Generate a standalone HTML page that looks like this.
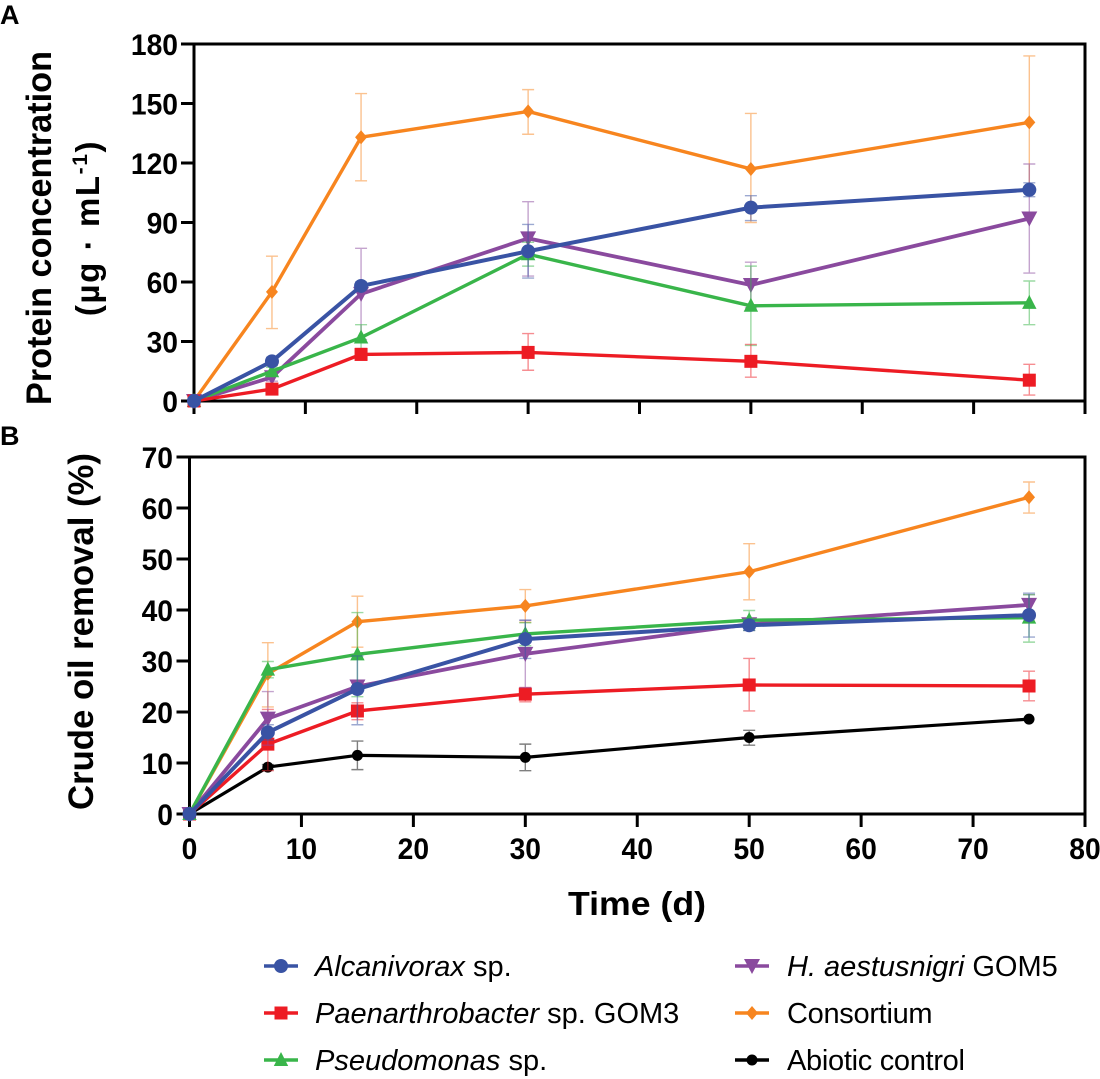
<!DOCTYPE html>
<html lang="en">
<head>
<meta charset="utf-8">
<title>Protein concentration and crude oil removal</title>
<style>
html,body{margin:0;padding:0;background:#fff;}
svg{display:block;}
text{font-family:"Liberation Sans",sans-serif;fill:#000;}
.tick{font-weight:bold;font-size:30px;}
.title{font-weight:bold;font-size:35px;}
.panel{font-weight:bold;font-size:27px;}
.leg{font-size:29px;}
</style>
</head>
<body>
<svg id="fig" xmlns="http://www.w3.org/2000/svg" width="1100" height="1079" viewBox="0 0 1100 1079">
<text class="panel" x="0" y="24">A</text>
<text class="panel" x="0" y="445">B</text>
<text class="title" transform="translate(51 405) rotate(-90)" textLength="354" lengthAdjust="spacingAndGlyphs">Protein concentration</text>
<text class="title" style="font-size:33px;letter-spacing:1.6px" transform="translate(99 228) rotate(-90)" text-anchor="middle">(µg · mL<tspan font-size="21" dy="-12">-1</tspan><tspan dy="12">)</tspan></text>
<text class="title" transform="translate(93 810) rotate(-90)" textLength="357" lengthAdjust="spacingAndGlyphs">Crude oil removal (%)</text>
<text class="title" style="font-size:33px" x="568" y="915" textLength="138" lengthAdjust="spacingAndGlyphs">Time (d)</text>
<g id="panelA"></g>
<g id="panelB"></g>
<g id="legend"></g>
</svg>
<script>
// Sampling days
const days = [0, 7, 15, 30, 50, 75];

// Panel A tick labels
const ticksAY = [0, 30, 60, 90, 120, 150, 180];
const ticksAX = [0, 10, 20, 30, 40, 50, 60, 70, 80];

// Panel A: protein concentration
const proteinAlc = [0, 20, 58, 75.5, 97.5, 106.5];
const proteinAlcHi = [0, 22, 60, 89, 103.5, 110];
const proteinAlcLo = [0, 18, 56, 62, 91, 103];
const proteinPae = [0, 6, 23.5, 24.5, 20, 10.5];
const proteinPaeHi = [0, 7, 26.5, 34, 28.5, 18.5];
const proteinPaeLo = [0, 5, 20.5, 15.5, 12, 3];
const proteinPse = [0, 15, 32, 74, 48, 49.5];
const proteinPseHi = [0, 17, 38.5, 80, 68, 60.5];
const proteinPseLo = [0, 13, 26, 68, 28, 38.5];
const proteinHae = [0, 12, 54, 82, 58.5, 92];
const proteinHaeHi = [0, 14, 77, 100.5, 70, 119.5];
const proteinHaeLo = [0, 10, 31, 63, 47, 64.5];
const proteinCon = [0, 55, 133, 146, 117, 140.5];
const proteinConHi = [0, 73, 155, 157, 145, 174];
const proteinConLo = [0, 36.5, 111, 134.5, 90, 107];

// Panel B tick labels
const ticksBY = [0, 10, 20, 30, 40, 50, 60, 70];
const ticksBX = [0, 10, 20, 30, 40, 50, 60, 70, 80];

// Panel B: crude oil removal
const removalAlc = [0, 16, 24.5, 34.3, 37, 39];
const removalAlcHi = [0, 17.5, 31, 38, 38, 43.3];
const removalAlcLo = [0, 14.5, 17.5, 30.5, 36, 34.7];
const removalPae = [0, 13.7, 20.2, 23.5, 25.3, 25.1];
const removalPaeHi = [0, 20.5, 21.8, 24.8, 30.5, 28];
const removalPaeLo = [0, 8.5, 18.5, 22, 20.2, 22.2];
const removalPse = [0, 28.3, 31.3, 35.3, 38, 38.5];
const removalPseHi = [0, 29.9, 39.5, 37.5, 39.9, 43];
const removalPseLo = [0, 26.7, 23, 33, 36, 33.7];
const removalHae = [0, 18.7, 25, 31.4, 37.2, 41];
const removalHaeHi = [0, 24, 25.7, 38, 38, 43];
const removalHaeLo = [0, 13.5, 24, 24.8, 36, 39];
const removalCon = [0, 27.5, 37.7, 40.8, 47.5, 62.1];
const removalConHi = [0, 33.6, 42.7, 44, 53, 65.1];
const removalConLo = [0, 21, 32.7, 37.6, 42, 59];
const removalAbi = [0, 9.2, 11.5, 11.1, 15, 18.6];
const removalAbiHi = [0, 9.7, 14.3, 13.7, 16.4, 18.6];
const removalAbiLo = [0, 8.7, 8.7, 8.5, 13.5, 18.6];

const NS = 'http://www.w3.org/2000/svg';
const COLORS = {alc:'#3953a4', pae:'#ed1c24', pse:'#39b54a', hae:'#8a4a9e', con:'#f7851f', abi:'#000000'};
const WIDTHS = {alc:4, pae:3.4, pse:3.4, hae:3.8, con:3.4, abi:3.2};

function mk(parent, tag, attrs) {
  const el = document.createElementNS(NS, tag);
  for (const k in attrs) el.setAttribute(k, attrs[k]);
  parent.appendChild(el);
  return el;
}

function marker(parent, kind, cx, cy, color, name) {
  let el;
  if (kind === 'alc') {
    el = mk(parent, 'circle', {cx: cx, cy: cy, r: 7, fill: color});
  } else if (kind === 'pae') {
    el = mk(parent, 'rect', {x: cx - 6.5, y: cy - 6.5, width: 13, height: 13, fill: color});
  } else if (kind === 'pse') {
    el = mk(parent, 'polygon', {points: [cx, cy - 8, cx + 7.2, cy + 6, cx - 7.2, cy + 6].join(' '), fill: color});
  } else if (kind === 'hae') {
    el = mk(parent, 'polygon', {points: [cx - 8, cy - 7, cx + 8, cy - 7, cx, cy + 8].join(' '), fill: color});
  } else if (kind === 'con') {
    el = mk(parent, 'polygon', {points: [cx, cy - 7, cx + 6, cy, cx, cy + 7, cx - 6, cy].join(' '), fill: color});
  } else {
    el = mk(parent, 'circle', {cx: cx, cy: cy, r: 5.5, fill: color});
  }
  
  
  return el;
}

function drawSeries(root, x, y, key, label, vals, hi, lo) {
  const color = COLORS[key];
  const g = mk(root, 'g', {});
  
  
  vals.forEach(function (v, i) {
    if (hi[i] === lo[i]) return;
    const px = x(days[i]);
    const err = mk(g, 'path', {
      d: 'M' + px + ' ' + y(hi[i]) + 'V' + y(lo[i]) + 'M' + (px - 6) + ' ' + y(hi[i]) + 'h12M' + (px - 6) + ' ' + y(lo[i]) + 'h12',
      fill: 'none', stroke: color, 'stroke-width': 1.4, 'stroke-opacity': 0.5
    });
    
    
  });
  const line = mk(g, 'polyline', {
    points: vals.map(function (v, i) { return x(days[i]) + ',' + y(v); }).join(' '),
    fill: 'none', stroke: color, 'stroke-width': WIDTHS[key], 'stroke-linejoin': 'round'
  });
  
  
  vals.forEach(function (v, i) {
    marker(g, key, x(days[i]), y(v), color, 'point-' + label);
  });
}

function drawAxes(root, x, y, yTicks, xTicks, left, right, top, bottom, showXLabels, yLabelRight, panel) {
  const frame = mk(root, 'rect', {x: left, y: top, width: right - left, height: bottom - top, fill: 'none', stroke: '#000', 'stroke-width': 3});
  
  
  yTicks.forEach(function (t) {
    const tk = mk(root, 'line', {x1: left - 13, x2: left, y1: y(t), y2: y(t), stroke: '#000', 'stroke-width': 3});
    
    
    const lb = mk(root, 'text', {x: yLabelRight, y: y(t) + 11, 'text-anchor': 'end', 'class': 'tick', textLength: String(t).length * 15.7, lengthAdjust: 'spacingAndGlyphs'});
    
    
    lb.textContent = t;
  });
  xTicks.forEach(function (t) {
    const tk = mk(root, 'line', {x1: x(t), x2: x(t), y1: bottom, y2: bottom + 13, stroke: '#000', 'stroke-width': 3});
    
    
    if (showXLabels) {
      const lb = mk(root, 'text', {x: x(t), y: bottom + 45, 'text-anchor': 'middle', 'class': 'tick', textLength: String(t).length * 15.7, lengthAdjust: 'spacingAndGlyphs'});
      
      
      lb.textContent = t;
    }
  });
}

// Panel A
const ax = function (d) { return 194 + d * (1085 - 194) / 80; };
const ay = function (v) { return 401 - v * (401 - 44) / 180; };
const rootA = document.getElementById('panelA');
drawAxes(rootA, ax, ay, ticksAY, ticksAX, 194, 1085, 44, 401, false, 178, 'a');
drawSeries(rootA, ax, ay, 'con', 'consortium', proteinCon, proteinConHi, proteinConLo);
drawSeries(rootA, ax, ay, 'hae', 'h-aestusnigri', proteinHae, proteinHaeHi, proteinHaeLo);
drawSeries(rootA, ax, ay, 'pse', 'pseudomonas', proteinPse, proteinPseHi, proteinPseLo);
drawSeries(rootA, ax, ay, 'pae', 'paenarthrobacter', proteinPae, proteinPaeHi, proteinPaeLo);
drawSeries(rootA, ax, ay, 'alc', 'alcanivorax', proteinAlc, proteinAlcHi, proteinAlcLo);

// Panel B
const bx = function (d) { return 189.5 + d * (1085 - 189.5) / 80; };
const by = function (v) { return 814 - v * (814 - 457) / 70; };
const rootB = document.getElementById('panelB');
drawAxes(rootB, bx, by, ticksBY, ticksBX, 189.5, 1085, 457, 814, true, 173, 'b');
drawSeries(rootB, bx, by, 'abi', 'abiotic-control', removalAbi, removalAbiHi, removalAbiLo);
drawSeries(rootB, bx, by, 'pae', 'paenarthrobacter', removalPae, removalPaeHi, removalPaeLo);
drawSeries(rootB, bx, by, 'con', 'consortium', removalCon, removalConHi, removalConLo);
drawSeries(rootB, bx, by, 'hae', 'h-aestusnigri', removalHae, removalHaeHi, removalHaeLo);
drawSeries(rootB, bx, by, 'pse', 'pseudomonas', removalPse, removalPseHi, removalPseLo);
drawSeries(rootB, bx, by, 'alc', 'alcanivorax', removalAlc, removalAlcHi, removalAlcLo);

// Legend
const legendKeys = ['alc', 'pae', 'pse', 'hae', 'con', 'abi'];
const legendItalic = ['Alcanivorax', 'Paenarthrobacter', 'Pseudomonas', 'H. aestusnigri', '', ''];
const legendPlain = [' sp.', ' sp. GOM3', ' sp.', ' GOM5', 'Consortium', 'Abiotic control'];
const legendRoot = document.getElementById('legend');
legendKeys.forEach(function (key, i) {
  const col = i < 3 ? 0 : 1;
  const yy = 966 + (i % 3) * 47;
  const x0 = col === 0 ? 264 : 735;
  const tx = col === 0 ? 315 : 787;
  const g = mk(legendRoot, 'g', {});
  
  
  const ln = mk(g, 'line', {x1: x0, x2: x0 + 34, y1: yy, y2: yy, stroke: COLORS[key], 'stroke-width': 3.4});
  
  
  marker(g, key, x0 + 17, yy, COLORS[key], 'legend-marker-' + key);
  const t = mk(g, 'text', {x: tx, y: yy + 10, 'class': 'leg'});
  
  
  t.style.whiteSpace = 'pre';
  if (i >= 4) t.style.letterSpacing = '-0.3px';
  if (legendItalic[i]) {
    const it = mk(t, 'tspan', {'font-style': 'italic'});
    it.textContent = legendItalic[i];
  }
  const pl = mk(t, 'tspan', {});
  pl.textContent = legendPlain[i];
});
</script>
</body>
</html>
